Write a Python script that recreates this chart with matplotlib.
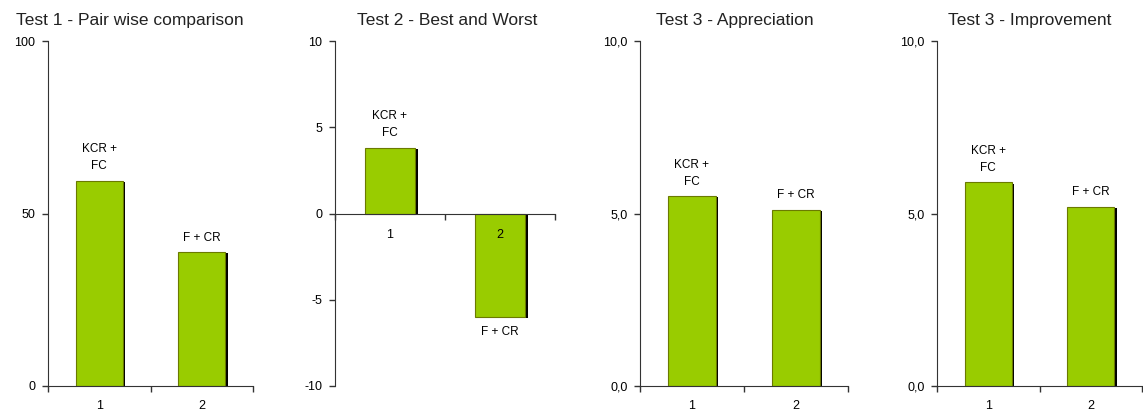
import matplotlib
matplotlib.use("Agg")
import matplotlib.pyplot as plt
import matplotlib.patheffects as pe

plt.rcParams['font.family'] = ['Liberation Sans', 'DejaVu Sans']

# data
categories = [1, 2]
bar_labels = ["KCR +\nFC", "F + CR"]
titles = ["Test 1 - Pair wise comparison", "Test 2 - Best and Worst",
          "Test 3 - Appreciation", "Test 3 - Improvement"]
test1 = [59.4, 38.8]
test2 = [3.8, -6.0]
test3_appr = [5.5, 5.1]
test3_impr = [5.9, 5.2]
series = [test1, test2, test3_appr, test3_impr]
yticks = [[0, 50, 100], [-10, -5, 0, 5, 10], [0, 5, 10], [0, 5, 10]]
ytick_labels = [["0", "50", "100"], ["-10", "-5", "0", "5", "10"],
                ["0,0", "5,0", "10,0"], ["0,0", "5,0", "10,0"]]

green = '#99cc00'
W, H = 1143, 413
fig = plt.figure(figsize=(W / 100, H / 100), dpi=100)
fig.patch.set_facecolor('white')

# axes boxes in pixels: left, right
boxes = [(48, 253), (335, 555), (640, 848), (937, 1142)]
title_x = [0.40, 0.51, 0.457, 0.45]
top_px, bot_px = 41, 386

for i, (l, r) in enumerate(boxes):
    ax = fig.add_axes([l / W, 1 - bot_px / H, (r - l) / W, (bot_px - top_px) / H])
    ax.set_axisbelow(False)  # tick labels drawn over the bars
    vals = series[i]
    bars = ax.bar(categories, vals, width=0.46, color=green, edgecolor='#6b7a00',
                  linewidth=0.8, zorder=1)
    for b in bars:
        b.set_path_effects([pe.SimplePatchShadow(offset=(1.6, -0.8), shadow_rgbFace='black', alpha=1.0),
                            pe.Normal()])
    ax.set_xlim(0.5, 2.5)
    ax.set_ylim(yticks[i][0], yticks[i][-1])
    ax.set_yticks(yticks[i])
    ax.set_yticklabels(ytick_labels[i])
    for s in ['top', 'right']:
        ax.spines[s].set_visible(False)
    ax.spines['left'].set_color('#333333')
    ax.spines['bottom'].set_color('#333333')
    ax.spines['bottom'].set_position(('data', 0))
    ax.tick_params(axis='y', direction='out', length=4, width=1, colors='#333333',
                   labelsize=9, pad=5, labelcolor='black')
    # ticks at category boundaries, labels at centers
    ax.set_xticks([0.5, 1.5, 2.5])
    ax.set_xticklabels([])
    ax.set_xticks(categories, minor=True)
    ax.set_xticklabels([str(c) for c in categories], minor=True)
    ax.tick_params(axis='x', which='major', direction='out', length=4, width=1, colors='#333333')
    ax.tick_params(axis='x', which='minor', length=0, labelsize=9, pad=10 if i != 1 else 11,
                   labelcolor='black')
    span = yticks[i][-1] - yticks[i][0]
    for c, v, t in zip(categories, vals, bar_labels):
        if v >= 0:
            ax.text(c, v + span * 0.025, t, ha='center', va='bottom', fontsize=8.5, linespacing=1.55)
        else:
            ax.text(c, v - span * 0.025, t, ha='center', va='top', fontsize=8.5, linespacing=1.55)
    ax.text(title_x[i], 1.058, titles[i], transform=ax.transAxes, ha='center', va='center',
            fontsize=12.5, color='#222222')
    ax.set_facecolor('none')

fig.savefig('out.png', dpi=100, facecolor='white')
